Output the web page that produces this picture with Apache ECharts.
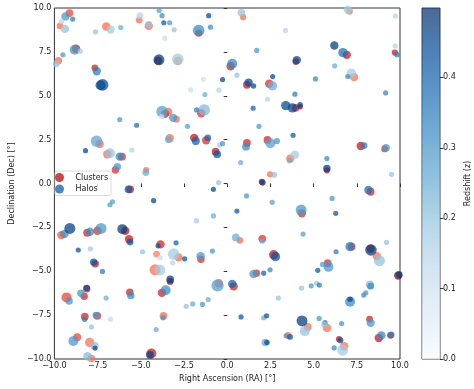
<!DOCTYPE html>
<html><head><meta charset="utf-8">
<script src="https://cdn.jsdelivr.net/npm/echarts@6/dist/echarts.min.js"></script>
<style>html,body{margin:0;padding:0;background:#fff}#c{width:474px;height:389px}</style>
</head><body><div id="c"></div>
<script>
// [RA, Dec, redshift, mass (1e14 Msun)]
var clusterPoints = [
[-9.13,9.71,0.30,1.3],[-9.68,8.98,0.25,0.9],[-7.00,8.95,0.25,1.5],[-5.09,9.31,0.25,1.0],[-4.54,8.98,0.25,1.5],
[-1.65,8.57,0.36,1.2],[-9.77,6.99,0.25,1.2],[-8.75,7.68,0.38,1.5],[-7.66,6.59,0.36,1.0],[-4.00,7.00,0.45,1.5],
[-2.86,6.98,0.25,1.5],[0.20,6.68,0.36,1.5],[-3.42,4.08,0.25,1.5],[-3.60,3.97,0.34,1.5],[-2.94,3.66,0.25,1.0],
[-1.50,4.00,0.34,1.5],[-7.38,2.25,0.25,1.5],[-6.94,1.67,0.25,1.5],[-6.09,1.53,0.34,1.3],[-3.33,2.58,0.25,1.5],
[-1.91,2.60,0.38,1.5],[-1.22,2.46,0.34,1.5],[-0.67,1.81,0.38,1.3],[-6.47,0.77,0.34,1.2],[-4.69,0.77,0.25,0.8],
[-5.62,-0.33,0.38,1.3],[-9.60,-2.94,0.28,1.5],[-8.11,-2.81,0.36,1.3],[-7.51,-2.69,0.34,1.5],[-5.90,-2.69,0.40,1.5],
[-5.68,-3.18,0.38,1.5],[-3.86,-3.47,0.36,1.5],[-4.09,-4.02,0.22,1.0],[-2.82,-4.21,0.25,1.5],[-1.52,-4.32,0.34,1.2],
[0.73,-3.24,0.25,1.0],[-7.64,-4.57,0.38,1.2],[-4.18,-4.92,0.24,2.3],[-3.30,-5.58,0.45,1.0],[-3.78,-6.23,0.36,1.5],
[-0.48,-5.68,0.24,1.5],[0.37,-5.86,0.36,1.5],[-8.13,-6.00,0.38,1.2],[-8.28,-6.42,0.36,1.2],[-9.30,-6.49,0.30,2.0],
[-5.64,-6.19,0.36,1.2],[-8.24,-7.58,0.36,1.3],[-7.52,-7.54,0.34,1.3],[-3.69,-7.54,0.25,1.3],[-8.68,-8.76,0.30,1.3],
[-7.96,-9.06,0.24,1.8],[-7.86,-9.97,0.24,1.2],[-4.39,-9.69,0.38,2.0],[2.05,0.05,0.45,0.8],[2.03,-3.15,0.34,1.3],
[2.69,-4.06,0.38,1.8],[1.69,-5.11,0.34,1.2],[8.30,-0.47,0.36,1.3],[4.32,-1.70,0.34,1.5],[7.20,-3.60,0.34,1.3],
[8.30,-3.72,0.40,1.5],[8.66,-4.14,0.24,1.5],[5.81,-4.54,0.34,1.3],[9.90,-5.24,0.46,1.5],[4.66,-8.17,0.24,1.3],
[5.77,-8.23,0.24,1.5],[8.24,-7.73,0.36,1.0],[3.52,-8.66,0.25,1.0],[6.47,-8.87,0.38,0.8],[6.77,-9.27,0.24,1.5],
[8.77,-8.80,0.38,1.5],[9.45,-8.65,0.38,1.0],[0.92,9.48,0.25,0.8],[1.14,5.62,0.38,1.3],[2.43,5.68,0.34,1.5],
[1.14,2.31,0.36,1.3],[2.33,2.48,0.36,1.3],[2.48,0.52,0.24,0.8],[7.07,9.82,0.24,1.0],[6.92,7.33,0.38,1.5],
[9.70,7.46,0.38,0.8],[3.97,6.95,0.42,1.0],[7.34,6.06,0.24,1.5],[3.95,4.31,0.40,1.3],[4.22,4.38,0.45,0.6],
[7.73,2.14,0.38,1.5],[9.11,1.97,0.34,1.0],[3.65,1.42,0.24,1.5],[5.77,0.75,0.42,0.8]
];
var haloPoints = [
[-9.36,9.52,0.30,1.5],[-8.94,9.37,0.35,0.5],[-9.59,9.22,0.15,0.5],[-9.39,8.81,0.20,1.5],[-7.62,8.64,0.20,0.5],
[-6.75,8.77,0.18,1.5],[-6.16,8.89,0.25,0.5],[-5.05,9.57,0.15,1.0],[-4.54,9.06,0.20,1.0],[-3.94,9.86,0.28,0.5],
[-3.77,9.56,0.32,0.5],[-3.67,9.16,0.42,0.5],[-3.33,9.16,0.30,0.5],[-3.07,8.76,0.20,0.5],[-3.61,8.28,0.12,0.5],
[-1.65,8.72,0.32,2.5],[-1.07,9.56,0.45,0.5],[-0.97,8.91,0.32,0.5],[-9.89,6.82,0.20,1.0],[-9.51,7.33,0.30,0.5],
[-8.83,7.62,0.30,2.0],[-8.51,7.54,0.18,0.5],[-7.55,6.40,0.35,1.5],[-7.33,5.60,0.45,2.0],[-7.21,5.62,0.45,2.5],
[-3.95,7.05,0.47,2.3],[-2.86,7.08,0.18,2.5],[0.29,6.82,0.33,2.0],[0.56,6.17,0.20,0.5],[-0.27,5.92,0.45,0.5],
[-1.37,5.94,0.10,0.5],[-2.12,5.33,0.12,0.5],[-0.48,5.32,0.15,0.5],[-1.29,5.07,0.25,0.5],[-6.22,3.64,0.30,0.5],
[-5.24,3.32,0.38,0.5],[-3.77,4.10,0.28,2.5],[-3.79,3.81,0.12,0.5],[-3.13,3.74,0.30,1.5],[-2.30,3.26,0.28,0.5],
[-1.33,4.19,0.22,2.5],[-1.77,4.19,0.35,0.5],[-8.20,1.87,0.45,0.5],[-7.56,2.41,0.27,2.5],[-6.79,1.72,0.20,2.0],
[-6.22,1.53,0.33,1.5],[-5.52,1.91,0.15,0.5],[-3.40,2.50,0.25,1.0],[-1.82,2.42,0.40,1.5],[-1.12,2.60,0.40,1.0],
[-0.58,1.67,0.43,1.3],[-0.44,2.20,0.18,0.5],[-0.27,2.27,0.30,0.5],[0.78,1.19,0.25,0.5],[-6.36,0.96,0.30,1.2],
[-4.71,0.62,0.25,1.0],[-0.50,0.05,0.20,0.5],[-0.80,-0.33,0.45,0.5],[-5.71,-0.33,0.42,1.3],[-6.64,-1.04,0.28,0.5],
[-6.79,-1.21,0.28,0.5],[-4.26,-0.98,0.45,0.5],[0.56,-1.57,0.42,0.5],[-0.80,-1.85,0.25,0.5],[-1.78,-2.12,0.18,0.5],
[-9.42,-2.88,0.32,1.5],[-9.11,-2.56,0.47,2.3],[-7.94,-2.75,0.33,1.5],[-7.30,-2.56,0.30,2.3],[-6.07,-2.60,0.47,2.0],
[-5.62,-3.34,0.43,1.0],[-8.62,-3.79,0.43,0.5],[-7.92,-3.72,0.18,0.5],[-4.90,-3.89,0.20,0.5],[-4.00,-3.55,0.43,0.5],
[-2.96,-3.38,0.40,0.5],[-3.88,-4.23,0.13,0.5],[-3.10,-4.02,0.18,2.5],[-3.16,-4.52,0.15,0.5],[-2.46,-4.29,0.43,0.5],
[-1.54,-4.14,0.30,1.5],[-0.86,-3.85,0.30,0.5],[0.50,-3.07,0.25,1.3],[-7.73,-4.48,0.43,1.2],[-7.22,-5.01,0.35,0.5],
[-3.90,-4.93,0.18,2.3],[-3.30,-5.47,0.47,1.3],[-3.56,-6.08,0.32,2.0],[-0.56,-5.81,0.28,2.7],[0.29,-5.72,0.40,1.5],
[-8.13,-5.95,0.45,0.8],[-8.47,-6.25,0.30,1.2],[-9.15,-6.69,0.30,1.2],[-7.01,-6.53,0.25,0.5],[-5.58,-6.38,0.33,1.2],
[-2.37,-7.00,0.20,0.5],[-2.00,-6.86,0.25,0.5],[-1.43,-6.89,0.30,0.5],[-1.10,-6.61,0.25,0.5],[0.80,-7.60,0.42,0.5],
[-8.25,-7.73,0.35,0.6],[-7.60,-7.50,0.30,1.0],[-6.75,-7.73,0.13,0.5],[-3.71,-7.65,0.30,0.6],[-4.11,-8.32,0.25,0.5],
[-7.86,-8.17,0.20,0.5],[-8.90,-8.97,0.30,2.0],[-7.68,-9.25,0.20,1.5],[-7.65,-9.38,0.45,0.5],[-8.09,-9.84,0.22,1.5],
[-4.47,-9.77,0.47,1.3],[2.00,0.10,0.47,0.8],[1.12,-0.71,0.30,0.5],[2.60,-1.07,0.28,0.5],[2.03,-3.28,0.25,0.5],
[2.79,-4.17,0.43,1.8],[1.52,-5.16,0.30,1.5],[2.11,-5.11,0.40,0.5],[2.48,-4.92,0.33,0.5],[2.96,-6.53,0.20,0.5],
[2.11,-7.65,0.25,0.5],[2.28,-7.54,0.43,0.5],[2.20,-9.06,0.25,1.2],[2.30,-9.06,0.45,0.6],[3.41,-8.68,0.30,0.5],
[8.17,-0.37,0.38,1.5],[6.07,-0.85,0.30,0.5],[6.28,-1.70,0.42,0.5],[4.28,-1.51,0.30,2.3],[4.39,-2.88,0.28,0.5],
[7.11,-3.60,0.35,1.8],[8.32,-3.79,0.47,2.5],[8.81,-4.40,0.20,2.3],[9.22,-3.35,0.20,0.5],[6.30,-3.89,0.35,0.5],
[5.86,-4.75,0.30,2.0],[5.52,-4.61,0.28,0.6],[5.24,-4.95,0.42,0.5],[9.95,-5.20,0.47,1.0],[4.30,-5.96,0.20,0.5],
[4.86,-5.83,0.30,0.5],[5.18,-5.69,0.20,0.5],[5.33,-5.79,0.35,0.5],[8.26,-5.77,0.22,1.5],[8.30,-5.85,0.33,1.0],
[7.90,-6.36,0.33,0.5],[8.02,-6.23,0.30,0.5],[7.11,-6.74,0.33,2.0],[7.11,-6.60,0.45,0.6],[4.33,-7.83,0.47,2.3],
[4.49,-8.41,0.20,2.0],[5.32,-7.69,0.30,0.5],[5.66,-7.92,0.38,0.5],[5.62,-8.03,0.20,0.8],[6.62,-7.98,0.30,0.5],
[8.30,-7.94,0.30,1.5],[3.64,-8.74,0.42,0.7],[6.55,-8.93,0.43,0.8],[6.68,-9.50,0.18,2.3],[6.19,-9.37,0.33,0.5],
[8.92,-8.66,0.33,1.5],[9.49,-8.62,0.35,1.0],[0.82,9.73,0.20,1.2],[3.37,8.72,0.15,0.5],[1.71,7.58,0.30,0.5],
[1.24,5.75,0.45,1.5],[1.52,5.56,0.45,0.6],[2.63,6.09,0.45,0.5],[2.62,5.56,0.25,1.8],[2.33,4.80,0.15,0.5],
[1.50,4.29,0.40,0.5],[1.84,3.26,0.30,0.5],[1.09,2.10,0.32,1.3],[2.50,2.29,0.28,2.0],[2.88,2.42,0.30,0.8],
[2.71,0.50,0.20,0.8],[6.98,9.90,0.18,1.5],[9.73,9.54,0.15,0.5],[6.20,7.86,0.47,1.5],[6.70,7.46,0.38,1.8],
[9.72,7.83,0.15,0.5],[9.83,7.33,0.35,0.6],[4.03,7.03,0.45,1.5],[6.22,6.70,0.25,0.5],[7.18,6.29,0.18,1.8],
[6.98,6.09,0.33,0.5],[5.11,5.96,0.33,0.5],[9.17,5.16,0.33,0.5],[3.92,5.09,0.35,0.5],[3.39,4.44,0.45,1.8],
[3.77,4.31,0.45,1.8],[4.22,4.48,0.45,0.6],[3.81,2.75,0.42,0.5],[7.92,2.16,0.35,1.0],[9.19,2.03,0.30,1.3],
[3.92,1.64,0.18,1.5],[3.60,1.30,0.25,0.5],[5.77,1.42,0.33,0.5],[5.77,0.85,0.47,1.2],[9.51,0.52,0.20,0.5]
];
var axisTicks = [-10, -7.5, -5, -2.5, 0, 2.5, 5, 7.5, 10];
var redshiftTicks = [0, 0.1, 0.2, 0.3, 0.4];
var redshiftMax = 0.4985;
var seriesNames = ['Clusters', 'Halos'];

var BLUES = ['#f7fbff','#deebf7','#c6dbef','#9ecae1','#6baed6','#4292c6','#2171b5','#08519c','#08306b'];
var REDS  = ['#fff5f0','#fee0d2','#fcbba1','#fc9272','#fb6a4a','#ef3b2c','#cb181d','#a50f15','#67000d'];
var FONT = 'DejaVu Sans';
var ALPHA = 0.74;
function fmt(v){ return (v < 0 ? '\u2212' : '') + Math.abs(v).toFixed(1); }
function sizeOf(v){ return 3.6 + 3.2 * v[3]; }

var chart = echarts.init(document.getElementById('c'), null, {renderer: 'canvas'});
chart.setOption({
  animation: false,
  textStyle: {fontFamily: FONT},
  grid: [
    {left: 47, right: 74, top: 8, bottom: 30, show: true, borderColor: '#333', borderWidth: 1, backgroundColor: 'transparent'},
    {left: 422, width: 18, top: 8, bottom: 30, show: true, borderColor: '#444', borderWidth: 1, backgroundColor: 'transparent'}
  ],
  xAxis: [
    {type: 'value', gridIndex: 0, min: -10, max: 10, interval: 2.5,
     name: 'Right Ascension (RA) [°]', nameLocation: 'middle', nameGap: 15,
     nameTextStyle: {fontSize: 8, color: '#222', fontFamily: FONT},
     axisLine: {show: false}, splitLine: {show: false},
     axisTick: {show: true, length: 3.5, lineStyle: {color: '#333'}, customValues: axisTicks},
     axisLabel: {fontSize: 8, color: '#222', margin: 3, formatter: fmt, fontFamily: FONT, customValues: axisTicks}},
    {type: 'category', gridIndex: 1, data: ['z'], show: false}
  ],
  yAxis: [
    {type: 'value', gridIndex: 0, min: -10, max: 10, interval: 2.5,
     name: 'Declination (Dec) [°]', nameLocation: 'middle', nameGap: 34, nameRotate: 90,
     nameTextStyle: {fontSize: 8, color: '#222', fontFamily: FONT},
     axisLine: {show: false}, splitLine: {show: false},
     axisTick: {show: true, length: 3.5, lineStyle: {color: '#333'}, customValues: axisTicks},
     axisLabel: {fontSize: 8, color: '#222', margin: 3, formatter: fmt, fontFamily: FONT, customValues: axisTicks}},
    {type: 'value', gridIndex: 1, min: 0, max: redshiftMax, position: 'right',
     name: 'Redshift (z)', nameLocation: 'middle', nameGap: 24, nameRotate: 90,
     nameTextStyle: {fontSize: 8, color: '#222', fontFamily: FONT},
     axisLine: {show: false}, splitLine: {show: false},
     axisTick: {show: true, length: 3.5, lineStyle: {color: '#333'}, customValues: redshiftTicks},
     axisLabel: {fontSize: 8, color: '#222', margin: 3, customValues: redshiftTicks,
       formatter: function(v){ return v.toFixed(1); }, fontFamily: FONT}}
  ],
  legend: {
    left: 55, top: 171, orient: 'vertical', padding: [2, 3, 2, 0], itemGap: 2.5,
    itemWidth: 22, itemHeight: 9, icon: 'circle',
    borderColor: '#d0d0d0', borderWidth: 0.8, borderRadius: 2, backgroundColor: 'rgba(255,255,255,0.8)',
    textStyle: {fontSize: 8, color: '#222', fontFamily: FONT},
    data: [
      {name: seriesNames[0], itemStyle: {color: '#cc4548', opacity: 1}},
      {name: seriesNames[1], itemStyle: {color: '#4a84c2', opacity: 1}}
    ]
  },
  visualMap: [
    {show: false, type: 'continuous', seriesIndex: 0, dimension: 2, min: 0, max: 0.5, inRange: {color: REDS}},
    {show: false, type: 'continuous', seriesIndex: 1, dimension: 2, min: 0, max: 0.5, inRange: {color: BLUES}}
  ],
  series: [
    {name: seriesNames[0], type: 'scatter', xAxisIndex: 0, yAxisIndex: 0, data: clusterPoints,
     symbolSize: sizeOf, itemStyle: {opacity: ALPHA}, emphasis: {disabled: true}, clip: true},
    {name: seriesNames[1], type: 'scatter', xAxisIndex: 0, yAxisIndex: 0, data: haloPoints,
     symbolSize: sizeOf, itemStyle: {opacity: ALPHA}, emphasis: {disabled: true}, clip: true},
    {name: 'colorbar', type: 'bar', xAxisIndex: 1, yAxisIndex: 1, data: [redshiftMax], barWidth: '100%',
     itemStyle: {color: new echarts.graphic.LinearGradient(0, 1, 0, 0,
       BLUES.map(function(c, i){ return {offset: i / (BLUES.length - 1), color: c}; })), opacity: 0.72},
     emphasis: {disabled: true}, silent: true}
  ]
});
</script></body></html>
